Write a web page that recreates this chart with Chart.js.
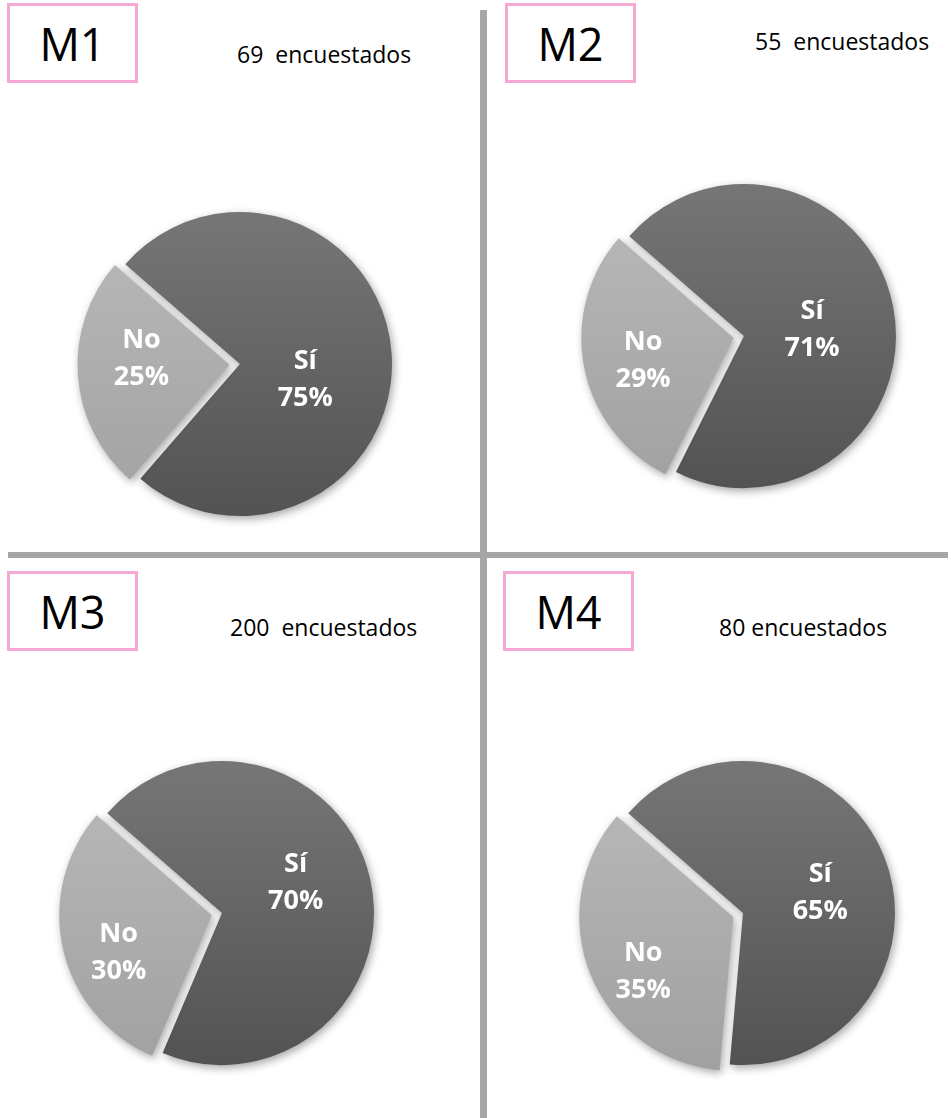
<!DOCTYPE html>
<html>
<head>
<meta charset="utf-8">
<script src="https://cdn.jsdelivr.net/npm/chart.js@4"></script>
<style>
  html, body { margin: 0; padding: 0; background: #fff; }
  body { width: 951px; height: 1118px; position: relative; overflow: hidden; font-family: "Open Sans", sans-serif; }
  .box { position: absolute; border: 3px solid #f3a9d2; box-sizing: border-box; width: 131px; height: 80px;
         display: flex; align-items: center; justify-content: center; font-size: 45px; color: #000; }
  .count { position: absolute; font-size: 23px; color: #000; white-space: pre; line-height: 1; }
  .vline { position: absolute; left: 480px; top: 10px; width: 7px; height: 1108px; background: #a6a6a6; }
  .hline { position: absolute; left: 8px; top: 552px; width: 940px; height: 6px; background: #a6a6a6; }
  canvas { position: absolute; }
</style>
</head>
<body>
<div class="vline"></div>
<div class="hline"></div>

<div class="box" style="left:7px;top:3px">M1</div>
<div class="box" style="left:505px;top:3px">M2</div>
<div class="box" style="left:7px;top:571px">M3</div>
<div class="box" style="left:503px;top:571px">M4</div>

<div class="count" style="left:237px;top:43px">69  encuestados</div>
<div class="count" style="left:755px;top:30px">55  encuestados</div>
<div class="count" style="left:230px;top:616px">200  encuestados</div>
<div class="count" style="left:719px;top:616px">80 encuestados</div>

<canvas id="m1" width="400" height="400" style="left:40px;top:164px"></canvas>
<canvas id="m2" width="400" height="400" style="left:544px;top:136px"></canvas>
<canvas id="m3" width="400" height="400" style="left:22px;top:713px"></canvas>
<canvas id="m4" width="400" height="400" style="left:543px;top:713px"></canvas>

<script>
// data
const categories = ['Sí', 'No'];
const m1Values = [75, 25];
const m2Values = [71, 29];
const m3Values = [70, 30];
const m4Values = [65, 35];

const sliceTop = ['#767676', '#bababa'];
const sliceBottom = ['#535353', '#a1a1a1'];
const labelDist = [0.47, 0.63];

function sliceFill(ctx) {
  const chart = ctx.chart;
  const a = chart.chartArea;
  if (!a) return sliceBottom[ctx.dataIndex];
  const r = 152;
  const cy = (a.top + a.bottom) / 2;
  const g = chart.ctx.createLinearGradient(0, cy - r, 0, cy + r);
  g.addColorStop(0, sliceTop[ctx.dataIndex]);
  g.addColorStop(1, sliceBottom[ctx.dataIndex]);
  return g;
}

// shadow under the slices + white "Sí / 75%" labels
const pieDecor = {
  id: 'pieDecor',
  beforeDatasetsDraw(chart) {
    const c = chart.ctx;
    c.save();
    c.shadowColor = 'rgba(0,0,0,0.35)';
    c.shadowBlur = 8;
    c.shadowOffsetX = 2;
    c.shadowOffsetY = 3;
  },
  afterDatasetsDraw(chart, args, opts) {
    const c = chart.ctx;
    c.restore();
    const meta = chart.getDatasetMeta(0);
    const vals = chart.data.datasets[0].data;
    const shift = opts.shift || [[0, 0], [0, 0]];
    c.save();
    c.fillStyle = '#ffffff';
    c.font = 'bold 27px "Open Sans"';
    c.textAlign = 'center';
    c.textBaseline = 'middle';
    meta.data.forEach((arc, i) => {
      const p = arc.getProps(['x', 'y', 'startAngle', 'endAngle', 'outerRadius']);
      const mid = (p.startAngle + p.endAngle) / 2;
      const d = p.outerRadius * labelDist[i];
      const x = p.x + Math.cos(mid) * d + shift[i][0];
      const y = p.y + Math.sin(mid) * d + shift[i][1];
      c.fillText(chart.data.labels[i], x, y - 18);
      c.fillText(vals[i] + '%', x, y + 19);
    });
    c.restore();
  }
};

function makePie(id, values, shift) {
  new Chart(document.getElementById(id), {
    type: 'pie',
    data: {
      labels: categories,
      datasets: [{
        data: values,
        backgroundColor: sliceFill,
        borderWidth: 0,
        offset: [0, 42]
      }]
    },
    options: {
      responsive: false,
      animation: false,
      rotation: 311,
      radius: 152,
      layout: { padding: 0 },
      plugins: {
        legend: { display: false },
        tooltip: { enabled: false },
        pieDecor: { shift }
      }
    },
    plugins: [pieDecor]
  });
}

makePie('m1', m1Values, [[-6, 20], [-3, -12]]);
makePie('m2', m2Values, [[-2, 7], [-7, 6]]);
makePie('m3', m3Values, [[4, -15], [-10, 18]]);
makePie('m4', m4Values, [[11, 6], [-11, 22]]);
</script>
</body>
</html>
